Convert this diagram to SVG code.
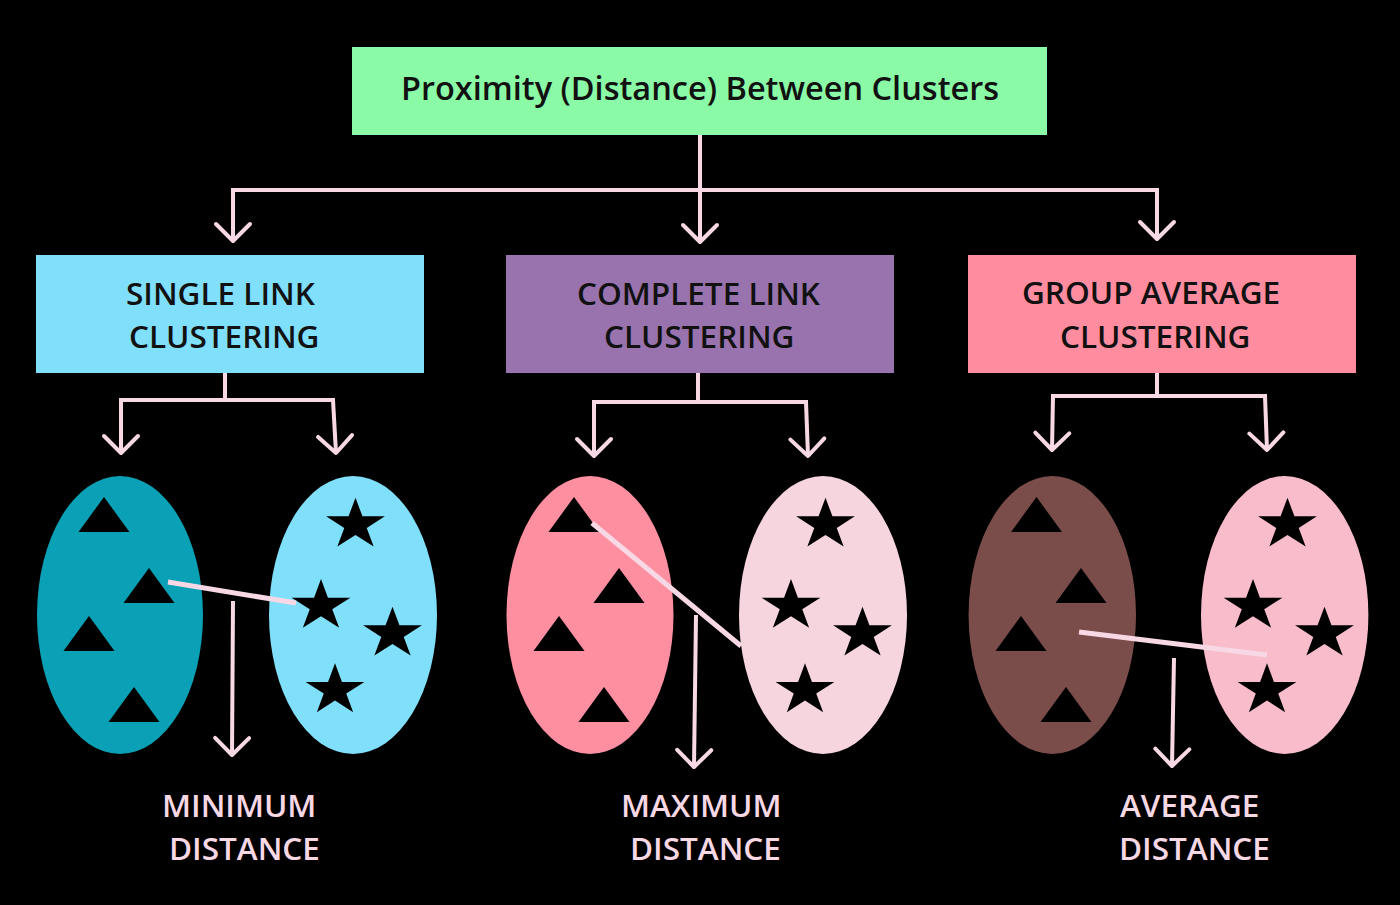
<svg xmlns="http://www.w3.org/2000/svg" width="1400" height="905" viewBox="0 0 1400 905">
<style>
.box-text{font-family:"Open Sans","Noto Sans","DejaVu Sans",sans-serif;font-size:31.5px;font-weight:600;fill:#111}
.title{font-family:"Open Sans","Noto Sans","DejaVu Sans",sans-serif;font-size:32.5px;font-weight:600;fill:#111}
.label{font-family:"Open Sans","Noto Sans","DejaVu Sans",sans-serif;font-size:31.5px;font-weight:600;fill:#f8d8e4}
.conn{fill:none;stroke:#f8d8e4;stroke-width:4}
.dist{fill:none;stroke:#f8d8e4;stroke-width:5}
.shape{fill:#000}
</style>
<defs>
<marker id="v" markerUnits="userSpaceOnUse" viewBox="-22 -22 26 44" markerWidth="26" markerHeight="44" refX="0" refY="0" orient="auto" overflow="visible">
<path d="M-17,-17 L0,0 L-17,17" fill="none" stroke="#f8d8e4" stroke-width="4" stroke-linecap="round" stroke-linejoin="round"/>
</marker>
<polygon id="tri" points="0,0 -25.5,35 25.5,35"/>
<polygon id="star" points="0,-30 6.74,-9.27 28.53,-9.27 10.9,3.54 17.63,24.27 0,11.46 -17.63,24.27 -10.9,3.54 -28.53,-9.27 -6.74,-9.27"/>
</defs>
<rect x="0" y="0" width="1400" height="905" fill="#000"/>

<g id="root">
<rect x="352" y="47" width="695" height="88" fill="#8afaa6"/>
<text class="title" x="700" y="100" text-anchor="middle">Proximity (Distance) Between Clusters</text>
</g>

<g id="single-link">
<rect x="36" y="255" width="388" height="118" fill="#80dffa"/>
<text class="box-text" x="126" y="305">SINGLE LINK</text>
<text class="box-text" x="129" y="348">CLUSTERING</text>
</g>
<g id="complete-link">
<rect x="506" y="255" width="388" height="118" fill="#9873ae"/>
<text class="box-text" x="577" y="305">COMPLETE LINK</text>
<text class="box-text" x="604" y="348">CLUSTERING</text>
</g>
<g id="group-average">
<rect x="968" y="255" width="388" height="118" fill="#ff8c9f"/>
<text class="box-text" x="1022" y="304">GROUP AVERAGE</text>
<text class="box-text" x="1060" y="348">CLUSTERING</text>
</g>

<g id="single-cluster-a">
<ellipse cx="120" cy="615" rx="83" ry="139" fill="#0aa0b5"/>
<use href="#tri" class="shape" x="104" y="497"/>
<use href="#tri" class="shape" x="149" y="568"/>
<use href="#tri" class="shape" x="89" y="616"/>
<use href="#tri" class="shape" x="134" y="687"/>
</g>
<g id="single-cluster-b">
<ellipse cx="353" cy="615" rx="84" ry="139" fill="#80dffa"/>
<use href="#star" class="shape" transform="translate(355.5,524.7) scale(1.03,0.9)"/>
<use href="#star" class="shape" transform="translate(321,606) scale(1.03,0.9)"/>
<use href="#star" class="shape" transform="translate(392.5,633.7) scale(1.03,0.9)"/>
<use href="#star" class="shape" transform="translate(335,690.3) scale(1.03,0.9)"/>
</g>

<g id="complete-cluster-a">
<ellipse cx="590" cy="615" rx="83.5" ry="139" fill="#fd8fa0"/>
<use href="#tri" class="shape" x="574" y="497"/>
<use href="#tri" class="shape" x="619" y="568"/>
<use href="#tri" class="shape" x="559" y="616"/>
<use href="#tri" class="shape" x="604" y="687"/>
</g>
<g id="complete-cluster-b">
<ellipse cx="823" cy="615" rx="84" ry="139" fill="#f7d5df"/>
<use href="#star" class="shape" transform="translate(825.5,524.7) scale(1.03,0.9)"/>
<use href="#star" class="shape" transform="translate(791,606) scale(1.03,0.9)"/>
<use href="#star" class="shape" transform="translate(862.5,633.7) scale(1.03,0.9)"/>
<use href="#star" class="shape" transform="translate(805,690.3) scale(1.03,0.9)"/>
</g>

<g id="group-cluster-a">
<ellipse cx="1052.3" cy="615" rx="83.7" ry="139" fill="#7b4d4a"/>
<use href="#tri" class="shape" x="1036.5" y="497"/>
<use href="#tri" class="shape" x="1081" y="568"/>
<use href="#tri" class="shape" x="1021" y="616"/>
<use href="#tri" class="shape" x="1066" y="687"/>
</g>
<g id="group-cluster-b">
<ellipse cx="1284.7" cy="615" rx="83.7" ry="139" fill="#f9bccb"/>
<use href="#star" class="shape" transform="translate(1287.5,524.7) scale(1.03,0.9)"/>
<use href="#star" class="shape" transform="translate(1253,606) scale(1.03,0.9)"/>
<use href="#star" class="shape" transform="translate(1324.5,633.7) scale(1.03,0.9)"/>
<use href="#star" class="shape" transform="translate(1267,690.3) scale(1.03,0.9)"/>
</g>

<g id="connectors">
<path class="conn" d="M700,135 L700,242" marker-end="url(#v)"/>
<path class="conn" d="M231,190 L1159,190"/>
<path class="conn" d="M233,190 L233,241" marker-end="url(#v)"/>
<path class="conn" d="M1157,190 L1157,239" marker-end="url(#v)"/>

<path class="conn" d="M225,373 L225,400"/>
<path class="conn" d="M119,400 L335,400"/>
<path class="conn" d="M121,400 L121,453" marker-end="url(#v)"/>
<path class="conn" d="M333,400 L336,453" marker-end="url(#v)"/>

<path class="conn" d="M698,373 L698,402"/>
<path class="conn" d="M592,402 L808,402"/>
<path class="conn" d="M594,402 L594,456" marker-end="url(#v)"/>
<path class="conn" d="M806,402 L808,456" marker-end="url(#v)"/>

<path class="conn" d="M1157,373 L1157,396"/>
<path class="conn" d="M1051,396 L1267,396"/>
<path class="conn" d="M1053,396 L1052,450" marker-end="url(#v)"/>
<path class="conn" d="M1265,396 L1267,450" marker-end="url(#v)"/>

<path class="dist" d="M168,582 L296,603"/>
<path class="dist" d="M592,523 L741,646"/>
<path class="dist" d="M1079,632 L1267,655"/>

<path class="conn" d="M233,601 L232,755" marker-end="url(#v)"/>
<path class="conn" d="M696,615 L694,767" marker-end="url(#v)"/>
<path class="conn" d="M1174,658 L1172,766" marker-end="url(#v)"/>
</g>

<g id="label-minimum">
<text class="label" x="162" y="817">MINIMUM</text>
<text class="label" x="169" y="860">DISTANCE</text>
</g>
<g id="label-maximum">
<text class="label" x="621" y="817">MAXIMUM</text>
<text class="label" x="630" y="860">DISTANCE</text>
</g>
<g id="label-average">
<text class="label" x="1120" y="817">AVERAGE</text>
<text class="label" x="1119" y="860">DISTANCE</text>
</g>
</svg>
